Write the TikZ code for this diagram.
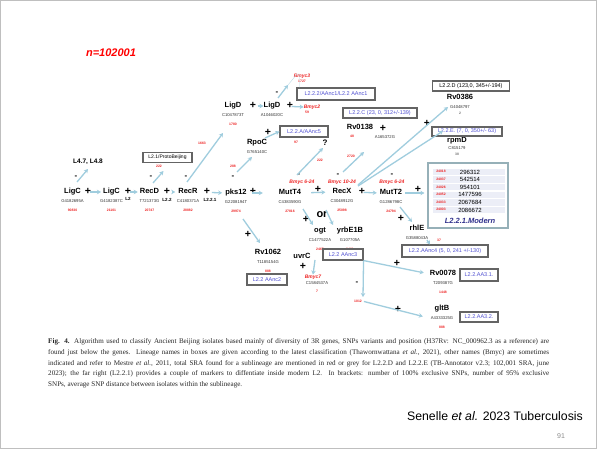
\documentclass[tikz,border=0pt]{standalone}
\usepackage{fontspec}
\setmainfont{Liberation Serif}
\setsansfont{Liberation Sans}
\usepackage{tikz}
\usetikzlibrary{arrows.meta, positioning}
\definecolor{arrowblue}{RGB}{160,205,222}
\definecolor{lineageblue}{RGB}{80,80,210}
\definecolor{sracolor}{RGB}{238,36,36}
\definecolor{boxgrey}{RGB}{100,100,100}
\definecolor{tableedge}{RGB}{150,176,184}
\definecolor{rowshade}{RGB}{236,238,247}
\definecolor{modernblue}{RGB}{48,48,140}
\tikzset{
  title_text/.style={font=\sffamily\bfseries\itshape\fontsize{11}{12}\selectfont, text=red, inner sep=0pt},
  gene_name/.style={font=\sffamily\bfseries\fontsize{7.5}{8}\selectfont, inner sep=0pt, text height=5.4pt, text depth=1.6pt},
  snp_pos/.style={font=\sffamily\fontsize{4.2}{5}\selectfont, text=black!80, inner sep=0pt, text height=3.1pt, text depth=0.9pt},
  sra_count/.style={font=\sffamily\bfseries\fontsize{3.4}{4}\selectfont, text=sracolor, inner sep=0pt, text height=2.4pt, text depth=0.4pt},
  sra_grey/.style={sra_count, text=black!55},
  bmyc_label/.style={font=\sffamily\bfseries\itshape\fontsize{5}{6}\selectfont, text=sracolor, inner sep=0pt},
  plus_sign/.style={font=\sffamily\bfseries\fontsize{10.5}{10}\selectfont, inner sep=0pt},
  minus_sign/.style={font=\sffamily\bfseries\fontsize{8}{8}\selectfont, inner sep=0pt},
  lineage_tag/.style={font=\sffamily\bfseries\fontsize{4.5}{5}\selectfont, inner sep=0pt},
  old_lineage/.style={font=\sffamily\bfseries\fontsize{6.5}{7}\selectfont, inner sep=0.5pt},
  lineage_box/.style={rectangle, draw=boxgrey, line width=1.1pt, inner sep=1pt, text=lineageblue, font=\sffamily\fontsize{5.5}{6}\selectfont},
  modern_box/.style={rectangle, draw=tableedge, line width=1.2pt, fill=white},
  row_shade/.style={rectangle, fill=rowshade, minimum width=72pt, minimum height=6.4pt, inner sep=0pt},
  marker_pos/.style={font=\sffamily\fontsize{6}{6}\selectfont, inner sep=0pt},
  modern_label/.style={font=\sffamily\bfseries\itshape\fontsize{7.5}{8}\selectfont, text=modernblue, inner sep=0pt},
  big_word/.style={font=\sffamily\bfseries\fontsize{11}{12}\selectfont, inner sep=0pt},
  caption_text/.style={font=\fontsize{7.1}{10.9}\selectfont, text=black!85, align=left, inner sep=0pt},
  cite_text/.style={font=\sffamily\fontsize{12.3}{14}\selectfont, inner sep=0pt},
  page_num/.style={font=\sffamily\fontsize{7}{8}\selectfont, text=black!45, inner sep=0pt},
  arrow/.style={-{Stealth[length=4pt, width=4.5pt]}, line width=1.3pt, arrowblue},
  faint_link/.style={draw=arrowblue!70, line width=0.4pt}
}

\begin{document}
\begin{tikzpicture}[x=1pt, y=-1pt]
  % slide page, one unit = one pixel, y pointing down
  \useasboundingbox (0,0) rectangle (597,449);
  \fill[white] (0,0) rectangle (597,449);
  \draw[black!25, line width=0.6pt] (0.3,0.3) rectangle (596.7,448.7);

  \node[title_text] (title) at (111,53) {n=102001};

  % --- 1. Genes (name, SNP just below, SRA count below that) ---
  \def\genenode#1#2#3#4#5{
    \node[gene_name] (#1) at (#2) {#3};
    \node[snp_pos, below=3.5pt of #1] (#1_pos) {#4};
    \node[sra_count, below=5pt of #1_pos] (#1_sra) {#5};
  }

  % main row
  \genenode{ligc_a}{72.5,192}{LigC}{G4182695A}{90830}
  \genenode{ligc_b}{111.5,192}{LigC}{G4182387C}{21101}
  \genenode{recd}{149.5,192}{RecD}{T721373G}{20747}
  \genenode{recr}{188,192}{RecR}{C4180371A}{28882}
  \genenode{pks12}{236,193}{pks12}{G2208194T}{29974}
  \genenode{mutt4}{290,193}{MutT4}{C4383590G}{27816}
  \genenode{recx}{342,192}{RecX}{C3048912G}{25098}
  \genenode{mutt2}{391,193}{MutT2}{G1286798C}{24794}

  % upper branches
  \genenode{ligd_a}{233,106}{LigD}{C1047873T}{1780}
  \genenode{ligd_b}{272,106}{LigD}{A1046020C}{}
  \genenode{rpoc}{257,143}{RpoC}{G765140C}{}
  \node[gene_name] (rv0138) at (360,128) {Rv0138};
  \node[snp_pos] (rv0138_pos) at (385,137) {A165372G};
  \node[sra_count] (rv0138_sra) at (352,137) {48};
  \node[gene_name] (rv0386) at (460,98) {Rv0386};
  \node[snp_pos, below=3.5pt of rv0386] (rv0386_pos) {G4048797};
  \node[sra_grey, below=2.6pt of rv0386_pos] (rv0386_sra) {2};
  \node[gene_name] (rpmd) at (457,141) {rpmD};
  \node[snp_pos, below=2pt of rpmd] (rpmd_pos) {C815179};
  \node[sra_grey, below=2pt of rpmd_pos] (rpmd_sra) {38};

  % lower branches
  \genenode{ogt}{320,231}{ogt}{C1477522A}{2465}
  \genenode{yrbe1b}{350,231}{yrbE1B}{G107705A}{2461}
  \genenode{rv1062}{268,253}{Rv1062}{T1185154G}{888}
  \genenode{rhle}{417,229}{rhlE}{G3588043A}{}
  \genenode{rv0078}{443,274}{Rv0078}{T209387G}{1448}
  \genenode{gltb}{442,309}{gltB}{A4333325G}{888}
  \node[gene_name] (uvrc) at (302,257) {uvrC};
  \node[bmyc_label] (bmyc7) at (313,277) {Bmyc7};
  \node[snp_pos] (bmyc7_pos) at (317,283) {C1584537A};
  \node[sra_count] (bmyc7_sra) at (317,291) {7};

  % Bmyc names and loose SRA counts
  \node[bmyc_label] (bmyc3) at (302,76) {Bmyc3};
  \node[sra_count] (bmyc3_sra) at (302,82) {1727};
  \node[bmyc_label] (bmyc2) at (312,107) {Bmyc2};
  \node[sra_count] (bmyc2_sra) at (307,113) {59};
  \node[bmyc_label] (mutt4_bmyc) at (302,182) {Bmyc 6-24};
  \node[bmyc_label] (recx_bmyc) at (342,182) {Bmyc 10-24};
  \node[bmyc_label] (mutt2_bmyc) at (392,182) {Bmyc 6-24};
  \node[sra_count] (proto_sra) at (159,167) {222};
  \node[sra_count] (ligd_up_sra) at (202,144) {1663};
  \node[sra_count] (rpoc_up_sra) at (233,167) {288};
  \node[sra_count] (aanc5_sra) at (296,143) {97};
  \node[sra_count] (quest_sra) at (320,161) {222};
  \node[sra_count] (rv0138_up_sra) at (351,157) {2720};
  \node[sra_count] (aanc4_sra) at (439,241) {37};
  \node[sra_count] (deep_sra) at (358,301) {1012};

  \node[old_lineage] (l47) at (88,162) {L4.7, L4.8};
  \node[font=\sffamily\bfseries\fontsize{8}{8}\selectfont, inner sep=0pt] (quest) at (325,143) {?};
  \node[big_word] (or_word) at (322,215) {or};

  % --- 2. Lineage boxes ---
  \node[lineage_box, text=black, minimum width=49pt, minimum height=10pt, font=\sffamily\fontsize{5}{6}\selectfont] (proto) at (167.5,157.5) {L2.1/ProtoBeijing};
  \node[lineage_box, minimum width=78pt, minimum height=12pt] (aanc1) at (336,94) {L2.2.2/AAnc1/L2.2 AAnc1};
  \node[lineage_box, minimum width=48pt, minimum height=11pt] (aanc5) at (304,131.5) {L2.2.A/AAnc5};
  \node[lineage_box, minimum width=74pt, minimum height=10pt] (l22c) at (380,113) {L2.2.C (23, 0, 312+/-139)};
  \node[lineage_box, text=black, minimum width=77pt, minimum height=10pt] (l22d) at (471,86) {L2.2.D (123,0, 345+/-194)};
  \node[lineage_box, minimum width=70pt, minimum height=9pt] (l22e) at (467,131.5) {L2.2.E. (7, 0, 350+/- 63)};
  \node[lineage_box, minimum width=86pt, minimum height=12pt] (aanc4) at (445,251) {L2.2.AAnc4 (5, 0, 241 +/-130)};
  \node[lineage_box, minimum width=40pt, minimum height=11pt] (aanc3) at (343,254.5) {L2.2 AAnc3};
  \node[lineage_box, minimum width=40pt, minimum height=11pt] (aanc2) at (267,279.5) {L2.2 AAnc2};
  \node[lineage_box, minimum width=38pt, minimum height=12pt] (aa31) at (479,275) {L2.2.AA3.1.};
  \node[lineage_box, minimum width=38pt, minimum height=10pt] (aa32) at (479,317) {L2.2.AA3.2.};

  % modern L2.2.1 markers
  \node[modern_box, minimum width=80pt, minimum height=65pt] (modern) at (468,195.5) {};
  \foreach \y/\sra/\snp [count=\i] in {172/24018/296312, 179.6/24037/542514, 187.2/24026/954101,
                                       194.8/24052/1477596, 202.4/24033/2067684, 210/24003/2086672} {
    \node[row_shade] (row\i) at (469,\y) {};
    \node[sra_count] (row\i_sra) at (441,\y) {\sra};
    \node[marker_pos] (row\i_snp) at (470,\y) {\snp};
  }
  \node[modern_label] (modern_name) at (470,221) {L2.2.1.Modern};

  % --- 3. Plus / minus signs ---
  \node[plus_sign] (plus_a) at (88,191) {+};
  \node[plus_sign] (plus_b) at (128,191) {+};
  \node[plus_sign] (plus_c) at (167,191) {+};
  \node[plus_sign] (plus_d) at (207,191) {+};
  \node[lineage_tag] (tag_b) at (128,199) {L2};
  \node[lineage_tag] (tag_c) at (167,200) {L2.2};
  \node[lineage_tag] (tag_d) at (210,200) {L2.2.1};
  \node[plus_sign] (plus_e) at (253,191) {+};
  \node[plus_sign] (plus_f) at (318,189) {+};
  \node[plus_sign] (plus_g) at (362,191) {+};
  \node[plus_sign] (plus_h) at (418,189) {+};
  \node[plus_sign] (plus_i) at (253,105) {+};
  \node[plus_sign] (plus_j) at (290,105) {+};
  \node[plus_sign] (plus_k) at (268,132) {+};
  \node[plus_sign] (plus_l) at (383,128) {+};
  \node[plus_sign] (plus_m) at (427,123) {+};
  \node[plus_sign] (plus_n) at (306,219) {+};
  \node[plus_sign] (plus_o) at (248,234) {+};
  \node[plus_sign] (plus_p) at (303,266) {+};
  \node[plus_sign] (plus_q) at (401,218) {+};
  \node[plus_sign] (plus_r) at (397,263) {+};
  \node[plus_sign] (plus_s) at (398,309) {+};

  \node[minus_sign] (minus_a) at (76,177) {-};
  \node[minus_sign] (minus_b) at (151,177) {-};
  \node[minus_sign] (minus_c) at (186,177) {-};
  \node[minus_sign] (minus_d) at (233,177) {-};
  \node[minus_sign] (minus_e) at (277,93) {-};
  \node[minus_sign] (minus_f) at (299,175.5) {-};
  \node[minus_sign] (minus_g) at (338,175.5) {-};
  \node[minus_sign] (minus_h) at (392,175) {-};
  \node[minus_sign] (minus_i) at (357,283) {-};

  % --- 4. Arrows ---
  % main row
  \draw[arrow, shorten <=9pt, shorten >=2pt] (ligc_a.east) -- (ligc_b.west);
  \draw[arrow, shorten <=10pt, shorten >=2pt] (ligc_b.east) -- (recd.west);
  \draw[arrow, shorten <=13pt, shorten >=3pt] (recd.east) -- (recr.west);
  \draw[arrow, shorten <=14pt, shorten >=3pt] (recr.east) -- (pks12.west);
  \draw[arrow, shorten <=5pt, shorten >=16pt] (pks12.east) -- (mutt4.west);
  \draw[arrow, shorten <=10pt, shorten >=7pt] (mutt4.east) -- (recx.west);
  \draw[arrow, shorten <=12pt, shorten >=3pt] (recx.east) -- (mutt2.west);
  \draw[arrow, shorten <=3pt, shorten >=3pt] (mutt2.east) -- (mutt2.east -| modern.west);

  % going up
  \draw[arrow] ([shift={(4.5,-10)}]ligc_a.center) -- ([shift={(0,7)}]l47.center);
  \draw[arrow] ([shift={(3.5,-9)}]recd.center) -- ([shift={(-4,13.5)}]proto.center);
  \draw[arrow] ([shift={(-1,-10)}]recr.center) -- ([shift={(-10,27)}]ligd_a.center);
  \draw[arrow] ([shift={(1,-21)}]pks12.center) -- ([shift={(-5,14)}]rpoc.center);
  \draw[arrow] ([shift={(8,-5)}]rpoc.center) -- (aanc5.west);
  \draw[arrow, shorten <=16pt] (ligd_a.east) -- (ligd_b.west);
  \draw[arrow, shorten <=11pt] (ligd_b.east) -- (bmyc2.west);
  \draw[arrow] ([shift={(6,-8)}]ligd_b.center) -- ([shift={(-14,9)}]bmyc3.center);
  \draw[faint_link] ([shift={(16,-21)}]ligd_b.center) -- ++(9,-11) -| ([xshift=3pt]aanc1.north west);
  \draw[arrow] ([shift={(7,-18)}]mutt4.center) -- ([shift={(-2,5)}]quest.center);
  \draw[arrow] ([shift={(1,-20)}]recx.center) -- ([shift={(4,24)}]rv0138.center);
  \draw[arrow] ([shift={(16,-7)}]recx.center) -- ([shift={(-12,9)}]rv0386.center);
  \draw[arrow] ([shift={(16,-6)}]recx.center) -- ([shift={(-14,-10)}]rpmd.center);

  % going down
  \draw[arrow] ([shift={(13,16)}]mutt4.center) -- ([shift={(-7,-6)}]ogt.center);
  \draw[arrow] ([shift={(-16,18)}]recx.center) -- ([shift={(-17,-6)}]yrbe1b.center);
  \draw[arrow] ([shift={(7,26)}]pks12.center) -- ([shift={(-8,-10)}]rv1062.center);
  \draw[arrow] ([shift={(9,14)}]mutt2.center) -- ([shift={(-5,-7)}]rhle.center);
  \draw[arrow] ([shift={(10,11)}]rhle.center) -- ([xshift=-15pt]aanc4.north);
  \draw[arrow] ([shift={(-5,29)}]ogt.center) -- (bmyc7.north);
  \draw[arrow] (aanc3.south east) -- ([shift={(5,-4)}]deep_sra.center);
  \draw[arrow, shorten >=6pt] (aanc3.south east) -- (rv0078.west);
  \draw[arrow, shorten <=2pt, shorten >=8pt] (deep_sra.east) -- (gltb_pos.west);

  % --- 5. Caption and reference ---
  \node[caption_text, anchor=north west] (caption) at (48,338) {%
    \hbox to 501pt{\textbf{Fig. 4.} Algorithm used to classify Ancient Beijing isolates based mainly of diversity of 3R genes, SNPs variants and position (H37Rv: NC\_000962.3 as a reference) are}\\
    \hbox to 501pt{found just below the genes. Lineage names in boxes are given according to the latest classification (Thawornwattana \textit{et al.}, 2021), other names (Bmyc) are sometimes}\\
    \hbox to 501pt{indicated and refer to Mestre \textit{et al.}, 2011, total SRA found for a sublineage are mentioned in red or grey for L2.2.D and L2.2.E (TB-Annotator v2.3; 102,001 SRA, june}\\
    \hbox to 501pt{2023); the far right (L2.2.1) provides a couple of markers to diffentiate inside modern L2. In brackets: number of 100\% exclusive SNPs, number of 95\% exclusive}\\
    SNPs, average SNP distance between isolates within the sublineage.};
  \node[cite_text, anchor=east] (cite) at (583,416) {Senelle \textit{et al.} 2023 Tuberculosis};
  \node[page_num] (pagenum) at (561,436) {91};
\end{tikzpicture}
\end{document}
